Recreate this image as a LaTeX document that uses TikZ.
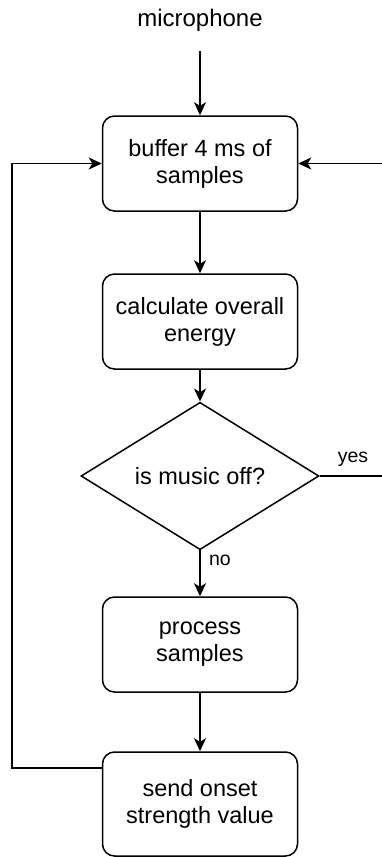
\documentclass[tikz,border=0pt]{standalone}
\usepackage{fontspec}
\setmainfont{Liberation Sans}
\usetikzlibrary{arrows.meta,shapes.geometric}

\begin{document}
\begin{tikzpicture}[x=1pt,y=-1pt,
  line width=1.5pt,
  stepbox/.style={draw, rounded corners=12pt, minimum width=195pt,
    minimum height=95pt, align=center, inner sep=0pt,
    font=\fontsize{23.5}{27}\selectfont},
  decision/.style={draw, diamond, minimum width=238pt, minimum height=115pt,
    inner sep=0pt, font=\fontsize{23.5}{27}\selectfont},
  label/.style={inner sep=0pt, font=\fontsize{19.5}{22}\selectfont},
  arr/.style={-{Stealth[length=13pt,width=12pt,inset=3.5pt]}}
]
\useasboundingbox (0,0) rectangle (382,857);

% input and process steps
\node[inner sep=0pt, font=\fontsize{24}{27}\selectfont] (mic) at (200,20) {microphone};
\node[stepbox] (buf)  at (200,163.5) {buffer 4 ms of\\samples};
\node[stepbox] (nrg)  at (200,321.5) {calculate overall\\energy};
\node[decision] (off) at (200,476)   {is music off?};
\node[stepbox] (proc) at (200,644.5) {process\\samples};
\node[stepbox, minimum height=104pt] (send) at (200,804) {send onset\\strength value};

% branch labels
\node[label] (yes) at (353,459) {yes};
\node[label] (no)  at (220,560) {no};

% corner points of the two feedback loops (the right one runs past the page edge)
\coordinate (lt) at (12,163.5);
\coordinate (lb) at (12,768);
\coordinate (rt) at (388,163.5);
\coordinate (rb) at (388,476);

% main flow
\draw[arr, shorten <=19pt] (mic) -- (buf);
\draw[arr] (buf) -- (nrg);
\draw[arr] (nrg) -- (off);
\draw[arr] (off) -- (proc);
\draw[arr] (proc) -- (send);

% loops back to the buffer step
\draw[arr] (send.west |- lb) -- (lb) -- (lt) -- (buf.west);
\draw[arr] (off.east) -- (rb) -- (rt) -- (buf.east);
\end{tikzpicture}
\end{document}
